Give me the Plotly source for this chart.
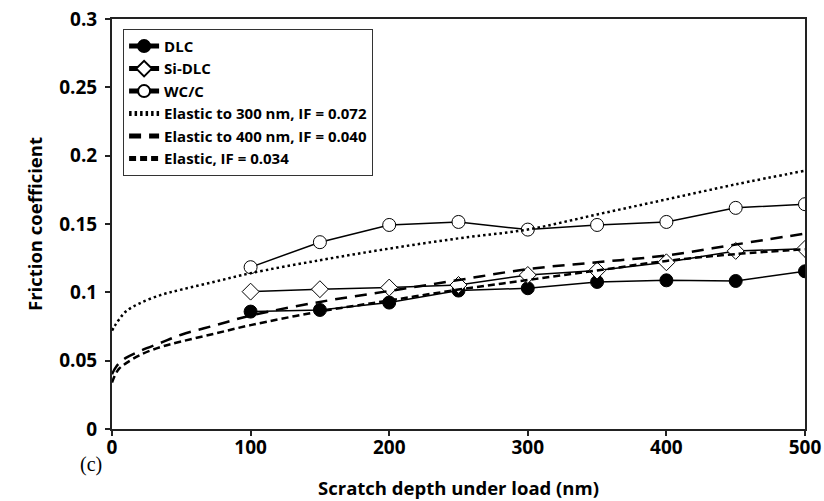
import plotly.graph_objects as go

# Measured friction coefficients vs scratch depth
depth = [100, 150, 200, 250, 300, 350, 400, 450, 500]
dlc = [0.0859, 0.0871, 0.0925, 0.1013, 0.1030, 0.1076, 0.1088, 0.1083, 0.1154]
si_dlc = [0.1005, 0.1023, 0.1035, 0.1054, 0.1127, 0.1159, 0.1220, 0.1303, 0.1318]
wc_c = [0.1184, 0.1367, 0.1493, 0.1515, 0.1459, 0.1493, 0.1515, 0.1618, 0.1645]

# Elastic model curves
model_depth = [0, 2, 5, 10, 20, 35, 50, 75, 100, 150, 200, 250, 300, 350, 400, 450, 500]
elastic_300 = [0.072, 0.0755, 0.080, 0.086, 0.092, 0.098, 0.102, 0.108, 0.114,
               0.1235, 0.132, 0.1395, 0.146, 0.157, 0.168, 0.179, 0.189]
elastic_400 = [0.040, 0.044, 0.048, 0.052, 0.057, 0.063, 0.069, 0.076, 0.083,
               0.093, 0.101, 0.109, 0.117, 0.122, 0.127, 0.135, 0.143]
elastic_all = [0.034, 0.039, 0.044, 0.048, 0.054, 0.060, 0.064, 0.070, 0.076,
               0.086, 0.094, 0.102, 0.109, 0.116, 0.123, 0.128, 0.1315]

x_ticks = [0, 100, 200, 300, 400, 500]
y_ticks = [0, 0.05, 0.1, 0.15, 0.2, 0.25, 0.3]
y_tick_text = ["0", "0.05", "0.1", "0.15", "0.2", "0.25", "0.3"]

FONT = "Open Sans"
fig = go.Figure()

fig.add_trace(go.Scatter(
    x=depth, y=dlc, name="DLC", mode="lines+markers",
    line=dict(color="black", width=1.5),
    marker=dict(symbol="circle", size=13, color="black",
                line=dict(color="black", width=1))))
fig.add_trace(go.Scatter(
    x=depth, y=si_dlc, name="Si-DLC", mode="lines+markers",
    line=dict(color="black", width=1.5),
    marker=dict(symbol="diamond", size=13, color="white",
                line=dict(color="black", width=1))))
fig.add_trace(go.Scatter(
    x=depth, y=wc_c, name="WC/C", mode="lines+markers",
    line=dict(color="black", width=1.5),
    marker=dict(symbol="circle", size=13, color="white",
                line=dict(color="black", width=1))))
fig.add_trace(go.Scatter(
    x=model_depth, y=elastic_300, name="Elastic to 300 nm, IF = 0.072",
    mode="lines", line=dict(color="black", width=2.5, dash="2.5px,3px", shape="spline")))
fig.add_trace(go.Scatter(
    x=model_depth, y=elastic_400, name="Elastic to 400 nm, IF = 0.040",
    mode="lines", line=dict(color="black", width=2.5, dash="12px,8px", shape="spline")))
fig.add_trace(go.Scatter(
    x=model_depth, y=elastic_all, name="Elastic, IF = 0.034",
    mode="lines", line=dict(color="black", width=2.5, dash="7px,4px", shape="spline")))

axis_common = dict(
    showgrid=False, zeroline=False, showline=True, linecolor="#222",
    linewidth=2, mirror=True, ticks="outside", ticklen=5, tickwidth=1.5,
    tickcolor="#222", automargin=False,
    tickfont=dict(family=FONT, size=19, color="black", weight="bold"),
)

fig.update_xaxes(
    range=[0, 500], tickvals=x_ticks, ticklabelstandoff=-5,
    title=dict(text="Scratch depth under load (nm)",
               font=dict(family=FONT, size=18.5, color="black", weight="bold"),
               standoff=23),
    **axis_common)
fig.update_yaxes(
    range=[0, 0.3], tickvals=y_ticks, ticktext=y_tick_text, ticklabelstandoff=4,
    title=dict(text="Friction coefficient",
               font=dict(family=FONT, size=18.5, color="black", weight="bold"),
               standoff=12),
    **axis_common)

fig.add_annotation(
    text="(c)", xref="paper", yref="paper", x=-0.011, y=-0.087,
    xanchor="right", yanchor="middle", showarrow=False,
    font=dict(family="Liberation Serif", size=20, color="black"))

fig.update_layout(
    width=824, height=501,
    margin=dict(l=112, r=19, t=19, b=72),
    paper_bgcolor="white", plot_bgcolor="white",
    showlegend=True,
    legend=dict(
        x=0.016, y=0.976, xanchor="left", yanchor="top",
        bgcolor="white", bordercolor="#333", borderwidth=1,
        font=dict(family=FONT, size=15, color="black", weight="bold"),
        tracegroupgap=0, itemwidth=30, itemsizing="constant",
    ),
)

fig.write_html("out.html")
